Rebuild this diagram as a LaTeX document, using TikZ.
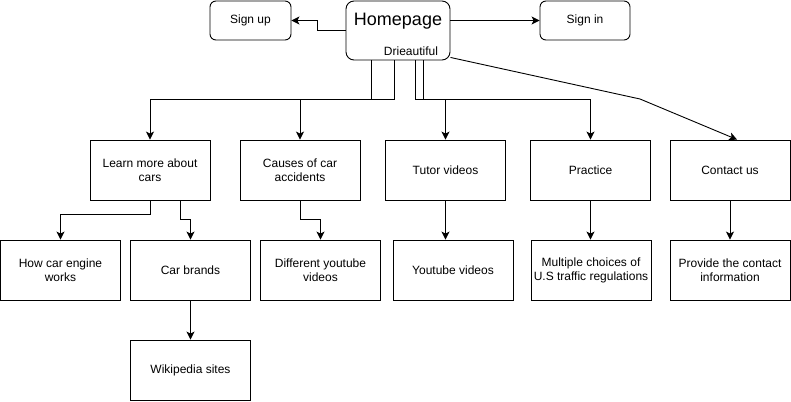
\documentclass[tikz,border=0pt]{standalone}
\usepackage{fontspec}
\setmainfont{Liberation Sans}
\usetikzlibrary{arrows.meta,positioning,calc}

\begin{document}
\begin{tikzpicture}[x=1pt,y=-1pt, font=\fontsize{12}{14}\selectfont,
  >={Stealth[length=8pt,width=8pt,inset=2pt]}, line width=0.9pt,
  pagebox/.style={draw, minimum width=120pt, minimum height=60pt, inner sep=0pt, align=center},
  topbox/.style={draw, rounded corners=6pt, inner sep=0pt, minimum height=39pt}]
  \useasboundingbox (0,0) rectangle (791,401);
  \def\rowa{170}\def\rowb{270}\def\rowc{370}

  % ===== top: homepage and sign up / sign in =====
  \node[topbox, rounded corners=8pt, minimum width=104pt, minimum height=59pt] (home) at (398,30.5) {};
  \node[font=\fontsize{18}{20}\selectfont] (hometitle) at (398,21) {Homepage};
  \node (tagline) at (411,51) {Drieautiful};
  \node[topbox, minimum width=81pt] (signup) at (250.5,20.5) {Sign up};
  \node[topbox, minimum width=90pt] (signin) at (585,20.5) {Sign in};

  % ===== second row: main sections =====
  \node[pagebox] (learn) at (150,\rowa) {Learn more about\\cars};
  \node[pagebox] (causes) at (300,\rowa) {Causes of car\\accidents};
  \node[pagebox] (tutor) at (445.5,\rowa) {Tutor videos};
  \node[pagebox] (practice) at (590.5,\rowa) {Practice};
  \node[pagebox] (contact) at (730,\rowa) {Contact us};

  % ===== third and fourth row: contents =====
  \node[pagebox] (engine) at (60.5,\rowb) {How car engine\\works};
  \node[pagebox] (brands) at (190.5,\rowb) {Car brands};
  \node[pagebox] (youtubes) at (320.5,\rowb) {Different youtube\\videos};
  \node[pagebox] (ytvideos) at (453,\rowb) {Youtube videos};
  \node[pagebox] (multiple) at (591,\rowb) {Multiple choices of\\U.S traffic regulations};
  \node[pagebox] (provide) at (730,\rowb) {Provide the contact\\information};
  \node[pagebox] (wiki) at (190.5,\rowc) {Wikipedia sites};

  % ===== connectors from the homepage =====
  \draw[->] (home.west) -- ++(-28,0) |- (signup.east);
  \draw[->] (home.east |- signin.west) -- (signin.west);
  \draw[->] ($(home.south west)+(26,0)$) |- ($(learn.north)+(0,-40)$) -- (learn.north);
  \draw[->] ($(home.south west)+(49,0)$) |- ($(causes.north)+(0,-40)$) -- (causes.north);
  \draw[->] ($(home.south west)+(70,0)$) |- ($(practice.north)+(0,-40)$) -- (practice.north);
  \draw[->] ($(home.south west)+(78,0)$) |- ($(tutor.north)+(0,-40)$) -- (tutor.north);
  \coordinate (bend) at (640,99);
  \draw[->] ($(home.south east)+(0,-3)$) -- (bend) -- ($(contact.north)+(7,0)$);

  % ===== connectors to the contents =====
  \draw[->] (learn.south) |- ($(engine.north)+(0,-25)$) -- (engine.north);
  \draw[->] ($(learn.south)+(30,0)$) |- ($(brands.north)+(0,-20)$) -- (brands.north);
  \draw[->] (causes.south) |- ($(youtubes.north)+(0,-20)$) -- (youtubes.north);
  \draw[->] (tutor.south) -- (tutor.south |- ytvideos.north);
  \draw[->] (practice.south) -- (practice.south |- multiple.north);
  \draw[->] (contact.south) -- (provide.north);
  \draw[->] (brands.south) -- (wiki.north);
\end{tikzpicture}
\end{document}
